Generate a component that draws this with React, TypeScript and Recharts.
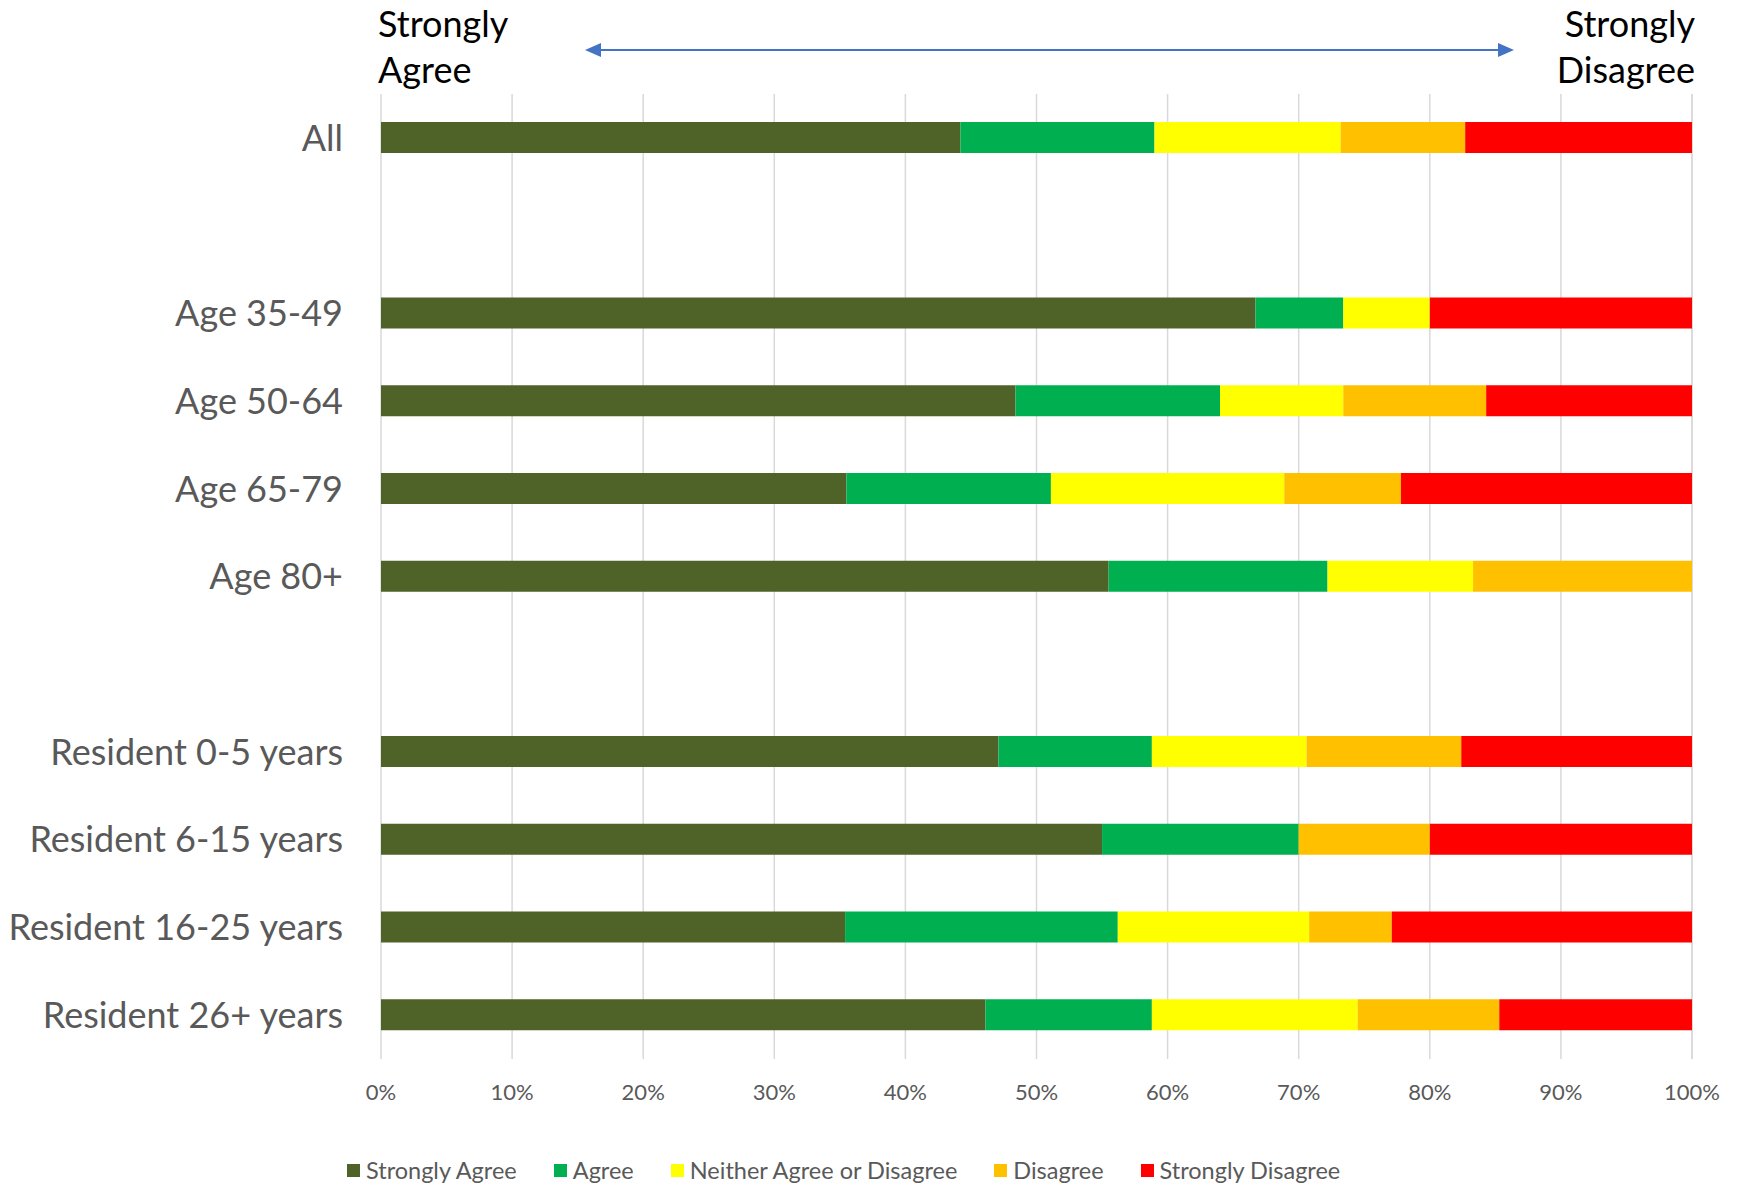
import React from 'react';
import { BarChart, Bar, XAxis, YAxis, CartesianGrid, Legend } from 'recharts';

const categories = [
  'All',
  'gap1',
  'Age 35-49',
  'Age 50-64',
  'Age 65-79',
  'Age 80+',
  'gap2',
  'Resident 0-5 years',
  'Resident 6-15 years',
  'Resident 16-25 years',
  'Resident 26+ years',
];

const stronglyAgree = [44.2, 0, 66.7, 48.4, 35.5, 55.5, 0, 47.1, 55.0, 35.4, 46.1];
const agree = [14.8, 0, 6.7, 15.6, 15.6, 16.7, 0, 11.7, 15.0, 20.8, 12.7];
const neither = [14.2, 0, 6.6, 9.4, 17.8, 11.1, 0, 11.8, 0, 14.6, 15.7];
const disagree = [9.5, 0, 0, 10.9, 8.9, 16.7, 0, 11.8, 10.0, 6.3, 10.8];
const stronglyDisagree = [17.3, 0, 20.0, 15.7, 22.2, 0, 0, 17.6, 20.0, 22.9, 14.7];

const xTicks = [0, 10, 20, 30, 40, 50, 60, 70, 80, 90, 100];

const seriesNames = ['Strongly Agree', 'Agree', 'Neither Agree or Disagree', 'Disagree', 'Strongly Disagree'];
const seriesKeys = ['sa', 'a', 'n', 'd', 'sd'];
const seriesColors = ['#4F6228', '#00B050', '#FFFF00', '#FFC000', '#FF0000'];

const data = categories.map((name, i) => ({
  name,
  sa: stronglyAgree[i],
  a: agree[i],
  n: neither[i],
  d: disagree[i],
  sd: stronglyDisagree[i],
}));

const FONT = 'Lato, "Open Sans", sans-serif';

const LegendContent = () => (
  <div style={{ display: 'flex', alignItems: 'center', paddingLeft: 347, height: 30, fontFamily: FONT, fontSize: 23.5, color: '#595959', whiteSpace: 'nowrap' }}>
    {seriesNames.map((nm, i) => (
      <div key={nm} style={{ display: 'flex', alignItems: 'center', marginRight: 37 }}>
        <span style={{ display: 'inline-block', width: 13, height: 13, background: seriesColors[i], marginRight: 6 }} />
        <span>{nm}</span>
      </div>
    ))}
  </div>
);

export default function App() {
  return (
    <div style={{ position: 'absolute', left: 0, top: 0, width: 1739, height: 1185, background: '#fff' }}>
      <BarChart
        width={1739}
        height={1185}
        data={data}
        layout="vertical"
        margin={{ top: 94, right: 47, bottom: 0, left: 0 }}
        barSize={31}
      >
        <CartesianGrid horizontal={false} vertical={true} stroke="#D9D9D9" strokeWidth={1.5} />
        <XAxis
          type="number"
          domain={[0, 100]}
          ticks={xTicks}
          tickFormatter={(v) => `${v}%`}
          axisLine={false}
          tickLine={false}
          tickSize={0}
          tickMargin={25}
          height={96}
          tick={{ fill: '#595959', fontSize: 22, fontFamily: FONT }}
          interval={0}
        />
        <YAxis
          type="category"
          dataKey="name"
          width={381}
          axisLine={false}
          tickLine={false}
          tickSize={0}
          tickMargin={38}
          interval={0}
          tickFormatter={(v) => (String(v).startsWith('gap') ? '' : v)}
          tick={{ fill: '#595959', fontSize: 36, fontFamily: FONT }}
        />
        <Legend verticalAlign="bottom" height={30} content={<LegendContent />} />
        {seriesKeys.map((k, i) => (
          <Bar key={k} dataKey={k} name={seriesNames[i]} stackId="s" fill={seriesColors[i]} isAnimationActive={false} />
        ))}
      </BarChart>
      <svg
        width={1739}
        height={94}
        style={{ position: 'absolute', left: 0, top: 0, pointerEvents: 'none' }}
      >
        <g fontFamily={FONT} fontSize={36} fill="#000">
          <text x={378} y={37}>Strongly</text>
          <text x={378} y={83}>Agree</text>
          <text x={1695} y={37} textAnchor="end">Strongly</text>
          <text x={1695} y={83} textAnchor="end">Disagree</text>
        </g>
        <line x1={598} y1={50} x2={1500} y2={50} stroke="#4472C4" strokeWidth={2} />
        <polygon points="585,50 601,43 601,57" fill="#4472C4" />
        <polygon points="1514,50 1498,43 1498,57" fill="#4472C4" />
      </svg>
    </div>
  );
}
